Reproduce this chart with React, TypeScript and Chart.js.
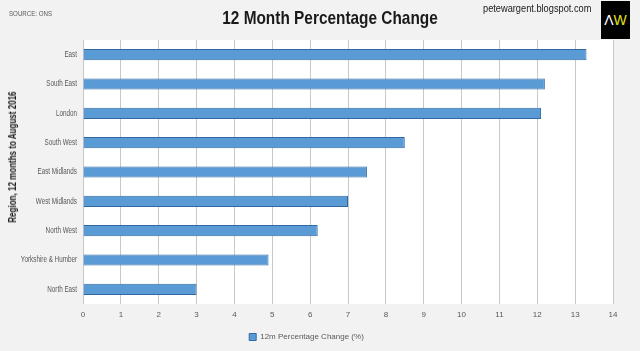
import React, { useEffect, useRef } from "react";
import { Chart, registerables } from "chart.js";

Chart.register(...registerables);

const regions = [
  "East",
  "South East",
  "London",
  "South West",
  "East Midlands",
  "West Midlands",
  "North West",
  "Yorkshire & Humber",
  "North East",
];
const changes = [13.3, 12.2, 12.1, 8.5, 7.5, 7.0, 6.2, 4.9, 3.0];
const seriesLabel = "12m Percentage Change (%)";
const chartTitle = "12 Month Percentage Change";
const axisTitle = "Region, 12 months to August 2016";
const sourceText = "SOURCE: ONS";
const siteText = "petewargent.blogspot.com";

const FONT = "'Liberation Sans', Arial, sans-serif";

const plotBg = {
  id: "plotBg",
  beforeDraw(chart: any) {
    const { ctx, chartArea } = chart;
    ctx.save();
    ctx.fillStyle = "#ffffff";
    ctx.fillRect(chartArea.left, chartArea.top, chartArea.right - chartArea.left, chartArea.bottom - chartArea.top);
    ctx.restore();
  },
};

// Draws the category labels of the y scale in a condensed face (narrow font is not installed)
const narrowYLabels = {
  id: "narrowYLabels",
  afterDraw(chart: any) {
    const { ctx } = chart;
    const scale = chart.scales.y;
    const labels = chart.data.labels as string[];
    ctx.save();
    ctx.fillStyle = "#595959";
    ctx.font = `9px ${FONT}`;
    ctx.textAlign = "right";
    ctx.textBaseline = "middle";
    labels.forEach((lab, i) => {
      const y = scale.getPixelForTick(i);
      ctx.save();
      ctx.translate(scale.right - 6, y);
      ctx.scale(0.7, 1);
      ctx.fillText(lab, 0, 0);
      ctx.restore();
    });
    ctx.restore();
  },
};

export default function App() {
  const ref = useRef<HTMLCanvasElement>(null);
  useEffect(() => {
    document.body.style.margin = "0";
    const chart = new Chart(ref.current!, {
      type: "bar",
      data: {
        labels: regions,
        datasets: [
          {
            label: seriesLabel,
            data: changes,
            backgroundColor: "#5b9bd5",
            borderColor: "#2f6aa3",
            borderWidth: 1,
            barPercentage: 0.38,
            categoryPercentage: 1,
          },
        ],
      },
      options: {
        indexAxis: "y",
        animation: false,
        responsive: false,
        maintainAspectRatio: false,
        layout: { padding: { top: 40, right: 27, left: 0, bottom: 0 } },
        plugins: {
          legend: {
            position: "bottom",
            labels: {
              boxWidth: 7,
              boxHeight: 7,
              padding: 10,
              color: "#595959",
              font: { family: FONT, size: 8 },
            },
          },
          title: { display: false },
          tooltip: { enabled: false },
        },
        scales: {
          x: {
            min: 0,
            max: 14,
            ticks: { stepSize: 1, color: "#595959", font: { family: FONT, size: 8 }, padding: 6 },
            grid: { color: "#c8c8c8", drawTicks: false },
            border: { display: false },
            afterFit(scale: any) {
              scale.height = 19;
            },
          },
          y: {
            ticks: { display: false },
            grid: { display: false, drawTicks: false },
            border: { display: false },
            afterFit(scale: any) {
              scale.width = 83;
            },
          },
        },
      },
      plugins: [plotBg, narrowYLabels],
    } as any);
    return () => chart.destroy();
  }, []);

  return (
    <div
      style={{
        position: "fixed",
        left: 0,
        top: 0,
        width: 640,
        height: 351,
        background: "#f2f2f2",
        overflow: "hidden",
        fontFamily: FONT,
      }}
    >
      <canvas ref={ref} width={640} height={351} style={{ position: "absolute", left: 0, top: 0 }} />
      <div
        style={{
          position: "absolute",
          left: 9,
          top: 10,
          fontSize: 7,
          color: "#595959",
          transform: "scaleX(0.88)",
          transformOrigin: "left center",
          whiteSpace: "nowrap",
        }}
      >
        {sourceText}
      </div>
      <div
        style={{
          position: "absolute",
          left: 330,
          top: 7,
          fontSize: 19,
          fontWeight: "bold",
          color: "#1a1a1a",
          whiteSpace: "nowrap",
          transform: "translateX(-50%) scaleX(0.81)",
        }}
      >
        {chartTitle}
      </div>
      <div
        style={{
          position: "absolute",
          left: 483,
          top: 2,
          fontSize: 11,
          color: "#1a1a1a",
          whiteSpace: "nowrap",
          transform: "scaleX(0.84)",
          transformOrigin: "left center",
        }}
      >
        {siteText}
      </div>
      <div
        style={{
          position: "absolute",
          left: 601,
          top: 1,
          width: 29,
          height: 38,
          background: "#000",
          display: "flex",
          alignItems: "center",
          justifyContent: "center",
          fontFamily: FONT,
          fontSize: 14,
        }}
      >
        <span style={{ color: "#fff" }}>Λ</span>
        <span style={{ color: "#e6e21a" }}>W</span>
      </div>
      <div
        style={{
          position: "absolute",
          left: 12,
          top: 157,
          transform: "translate(-50%, -50%) rotate(-90deg) scaleX(0.73)",
          whiteSpace: "nowrap",
          fontSize: 11,
          fontWeight: "bold",
          color: "#1a1a1a",
        }}
      >
        {axisTitle}
      </div>
    </div>
  );
}
